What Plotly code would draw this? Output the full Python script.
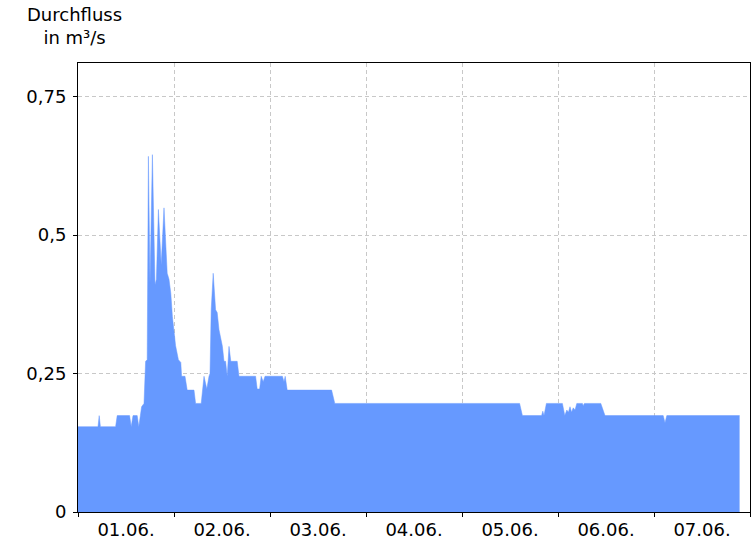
import pandas as pd
import plotly.graph_objects as go

# Time since 01.06. 00:00, in hours, and discharge in m³/s
hours = [0, 5.0, 5.3, 5.6, 9.4, 9.8, 12.9, 13.3, 13.75, 14.8, 15.2, 15.9, 16.5, 16.9,
         17.3, 17.6, 18.0, 18.6, 19.25, 19.6, 20.1, 20.8, 21.5, 22.1, 22.3, 22.75,
         23.2, 23.6, 24.0, 24.4, 25.1, 25.7, 25.9, 26.75, 27.3, 29.0, 29.4, 30.8,
         31.5, 32.2, 32.75, 33.0, 33.3, 33.8, 34.4, 34.8, 35.25, 36.1, 36.5, 36.9,
         37.3, 37.75, 38.2, 39.8, 40.25, 44.4, 44.8, 45.4, 45.8, 46.3, 46.75, 51.1,
         51.5, 51.8, 52.3, 63.4, 64.2, 110.4, 111.1, 115.9, 116.2, 116.5, 117.1,
         121.1, 121.7, 122.2, 122.6, 123.0, 123.4, 123.8, 124.25, 124.7, 126.1,
         126.3, 126.6, 130.7, 131.75, 146.3, 146.75, 147.2, 165.4]
flow = [0.154, 0.154, 0.174, 0.154, 0.154, 0.174, 0.174, 0.154, 0.174, 0.174, 0.154,
        0.19, 0.196, 0.272, 0.275, 0.642, 0.413, 0.645, 0.41, 0.42, 0.546, 0.446,
        0.549, 0.474, 0.431, 0.42, 0.395, 0.353, 0.33, 0.30, 0.275, 0.27, 0.245,
        0.245, 0.22, 0.22, 0.196, 0.196, 0.245, 0.222, 0.245, 0.25, 0.365, 0.431,
        0.365, 0.36, 0.329, 0.299, 0.272, 0.272, 0.245, 0.299, 0.272, 0.272, 0.245,
        0.245, 0.222, 0.222, 0.245, 0.235, 0.245, 0.245, 0.235, 0.245, 0.22, 0.22,
        0.196, 0.196, 0.174, 0.174, 0.182, 0.174, 0.196, 0.196, 0.174, 0.184, 0.18,
        0.19, 0.18, 0.188, 0.184, 0.196, 0.196, 0.192, 0.196, 0.196, 0.174, 0.174,
        0.161, 0.174, 0.174]

y_ticks = [0, 0.25, 0.5, 0.75]
y_tick_labels = ["0", "0,25", "0,5", "0,75"]

start = pd.Timestamp("2024-06-01 00:00")
end = pd.Timestamp("2024-06-08 00:00")
times = [start + pd.Timedelta(hours=h) for h in hours]

FONT = "DejaVu Sans"
GRID = "#c8c8c8"

fig = go.Figure()
fig.add_trace(go.Scatter(
    x=times, y=flow, mode="lines", fill="tozeroy",
    fillcolor="#6699ff", line=dict(color="#6699ff", width=0.5),
    hoverinfo="skip", showlegend=False,
))

fig.update_layout(
    width=756, height=546,
    margin=dict(l=78, r=6, t=63, b=34, autoexpand=False),
    paper_bgcolor="white", plot_bgcolor="white",
    font=dict(family=FONT, size=18, color="black"),
    xaxis=dict(
        type="date", range=[start, end], automargin=False,
        tick0=start, dtick=86400000, tickformat="%d.%m.",
        ticklabelmode="period", ticklabelstandoff=-3,
        ticks="outside", ticklen=4, tickcolor="black",
        showgrid=True, gridcolor=GRID, griddash="4px,3px", gridwidth=1,
        showline=True, linecolor="black", linewidth=1, mirror=True,
        zeroline=False,
        tickfont=dict(family=FONT, size=18, color="black"),
    ),
    yaxis=dict(
        range=[0, 0.8105], automargin=False,
        tickvals=y_ticks, ticktext=y_tick_labels, ticklabelstandoff=3,
        ticks="outside", ticklen=4, tickcolor="black",
        showgrid=True, gridcolor=GRID, griddash="4px,3px", gridwidth=1,
        showline=True, linecolor="black", linewidth=1, mirror=True,
        zeroline=False,
        tickfont=dict(family=FONT, size=18, color="black"),
    ),
    annotations=[dict(
        text="Durchfluss<br>in m³/s", xref="paper", yref="paper",
        x=-0.0045, y=1.135, xanchor="center", yanchor="top",
        showarrow=False, align="center",
        font=dict(family=FONT, size=18, color="black"),
    )],
)

fig.write_html(
    "out.html",
    config={"displayModeBar": False},
    post_script="document.body.style.margin='0';document.body.style.overflow='hidden';",
)
